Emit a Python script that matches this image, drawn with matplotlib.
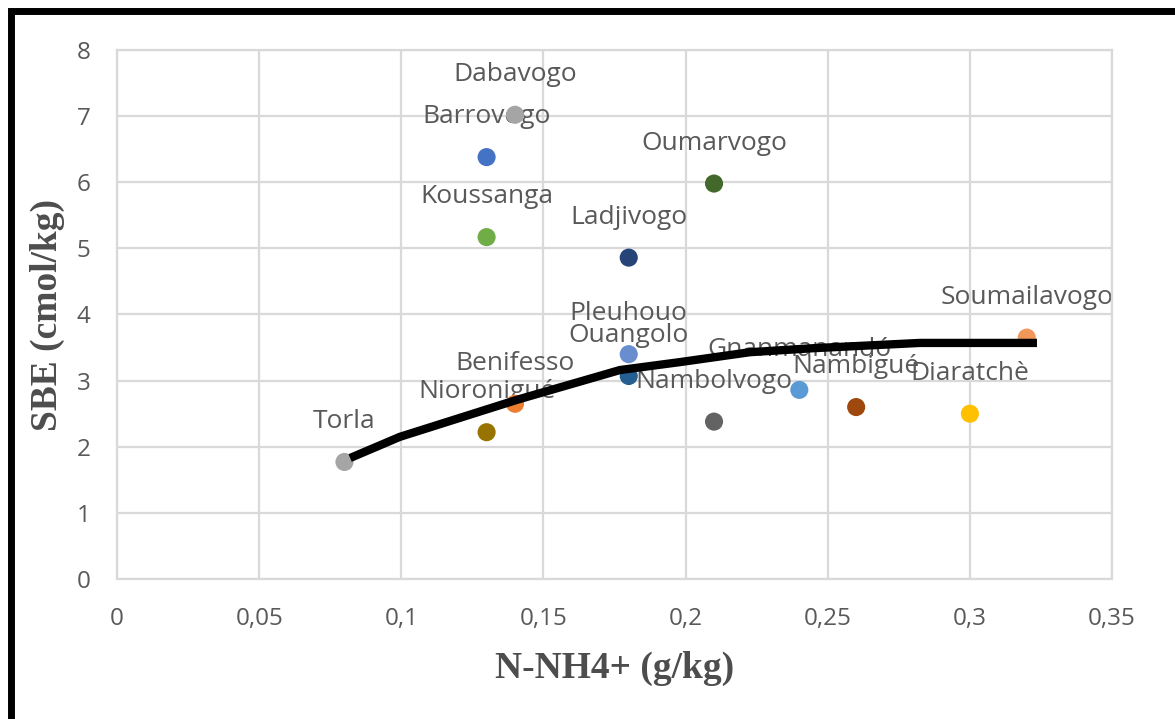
import matplotlib.pyplot as plt
from matplotlib.patches import Rectangle
from matplotlib.ticker import FuncFormatter, MultipleLocator

# ========================================================
# DATA

SITES = [
    "Torla", "Nioronigué", "Benifesso", "Koussanga", "Barrovogo", "Dabavogo",
    "Ladjivogo", "Pleuhouo", "Ouangolo", "Oumarvogo", "Nambolvogo",
    "Gnanmanandó", "Nambigué", "Diaratchè", "Soumailavogo",
]
NH4 = [0.08, 0.13, 0.14, 0.13, 0.13, 0.14, 0.18, 0.18, 0.18, 0.21, 0.21,
       0.24, 0.26, 0.30, 0.32]
SBE = [1.77, 2.22, 2.65, 5.17, 6.38, 7.02, 4.86, 3.40, 3.07, 5.98, 2.38,
       2.86, 2.60, 2.50, 3.65]
COLORS = [
    "#A5A5A5", "#997300", "#ED7D31", "#70AD47", "#4472C4", "#A5A5A5",
    "#264478", "#698ED0", "#255E91", "#43682B", "#636363",
    "#5B9BD5", "#9E480E", "#FFC000", "#F1975A",
]

# trend curve
TREND_X = [0.082, 0.0995, 0.1407, 0.1769, 0.198, 0.2227, 0.2448, 0.2824, 0.3236]
TREND_Y = [1.83, 2.15, 2.71, 3.16, 3.28, 3.43, 3.49, 3.57, 3.57]

GRID = "#D9D9D9"
TEXT = "#595959"

# ========================================================
# PLOT

fig = plt.figure(figsize=(11.75, 7.19), dpi=100)
ax = fig.add_axes([0.0996, 0.1947, 0.8468, 0.7358])

ax.scatter(NH4, SBE, s=170, c=COLORS, zorder=3, linewidths=0)
ax.plot(TREND_X, TREND_Y, color="black", lw=6, zorder=4, solid_capstyle="butt")

for name, x, y in zip(SITES, NH4, SBE):
    ax.annotate(name, (x, y), xytext=(0, 29), textcoords="offset points",
                ha="center", va="center", fontsize=19, color=TEXT,
                family="Open Sans", zorder=2)

ax.set_xlim(0, 0.35)
ax.set_ylim(0, 8)
ax.xaxis.set_major_locator(MultipleLocator(0.05))
ax.yaxis.set_major_locator(MultipleLocator(1))
ax.xaxis.set_major_formatter(FuncFormatter(lambda v, p: f"{v:g}".replace(".", ",")))
ax.grid(True, color=GRID, lw=1.6, zorder=0)
ax.set_axisbelow(True)
for s in ax.spines.values():
    s.set_color(GRID)
    s.set_linewidth(1.6)
ax.tick_params(length=0, labelsize=17.5, labelcolor=TEXT)
ax.tick_params(axis="x", pad=20)
ax.tick_params(axis="y", pad=19)
for lab in ax.get_xticklabels() + ax.get_yticklabels():
    lab.set_family("Open Sans")

fig.text(0.523, 0.071, "N-NH4+ (g/kg)", ha="center", va="center",
         fontsize=27, fontweight="bold", family="Liberation Serif", color="#4D4D4D")
fig.text(0.040, 0.562, "SBE (cmol/kg)", ha="center", va="center", rotation=90,
         fontsize=27, fontweight="bold", family="Liberation Serif", color="#4D4D4D")

# black frame around the picture (cut on the right and bottom)
fig.patches.append(Rectangle((10.5 / 1175, -0.05), 1.1, 1.05 - 10.5 / 719,
                             transform=fig.transFigure, fill=False,
                             edgecolor="black", lw=5))

fig.savefig("out.png", dpi=100)
